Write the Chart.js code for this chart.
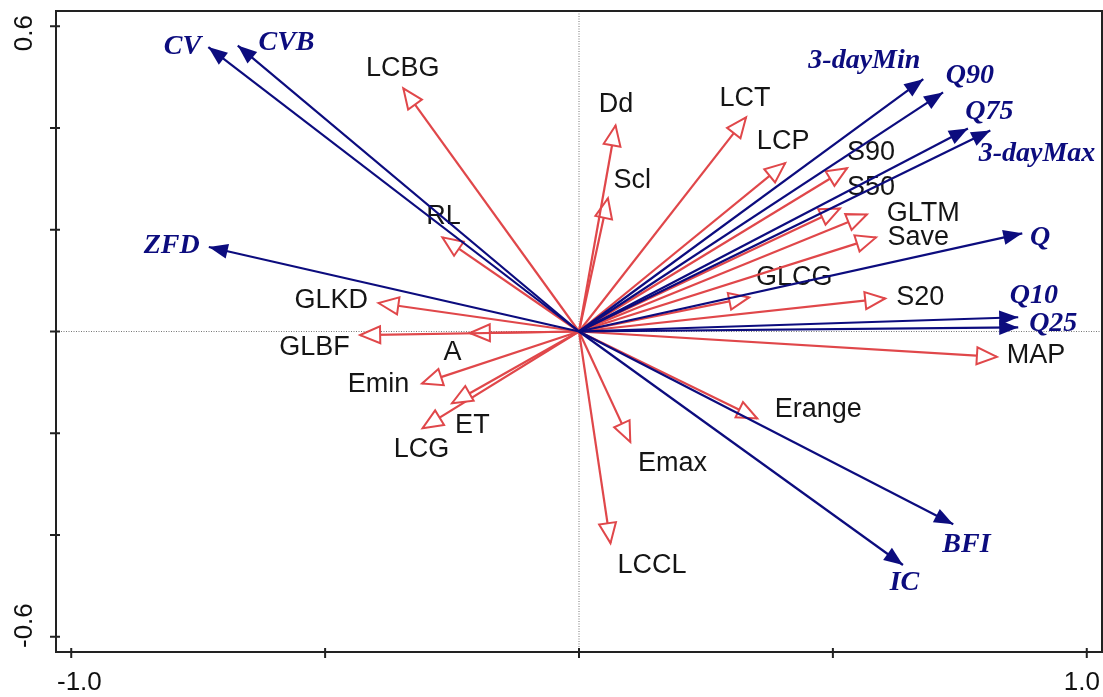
<!DOCTYPE html>
<html lang="en">
<head>
<meta charset="UTF-8">
<title>RDA biplot</title>
<script src="https://cdn.jsdelivr.net/npm/chart.js@4.4.0/dist/chart.umd.min.js"></script>
<style>
  body { margin: 0; background: #fff; }
  canvas { display: block; }
</style>
</head>
<body>
<canvas id="biplot" width="1103" height="697"></canvas>
<script>
// flow metrics (blue, filled heads)
const blueNames = ['CV', 'CVB', 'ZFD', '3-dayMin', 'Q90', 'Q75', '3-dayMax', 'Q', 'Q10', 'Q25', 'BFI', 'IC'];
const blueX = [-0.730, -0.672, -0.729, 0.678, 0.717, 0.766, 0.810, 0.873, 0.865, 0.865, 0.737, 0.638];
const blueY = [0.559, 0.562, 0.166, 0.496, 0.470, 0.399, 0.395, 0.193, 0.028, 0.008, -0.379, -0.459];
const blueLabelX = [-0.781, -0.576, -0.802, 0.562, 0.770, 0.808, 0.902, 0.908, 0.896, 0.934, 0.763, 0.641];
const blueLabelY = [0.560, 0.568, 0.168, 0.533, 0.503, 0.431, 0.350, 0.185, 0.071, 0.016, -0.420, -0.493];

// catchment variables (red, open heads)
const redNames = ['LCBG', 'RL', 'GLKD', 'GLBF', 'A', 'Emin', 'ET', 'LCG', 'Dd', 'Scl', 'LCT', 'LCP',
                  'S90', 'S50', 'GLTM', 'Save', 'GLCG', 'S20', 'MAP', 'Erange', 'Emax', 'LCCL'];
const redX = [-0.346, -0.269, -0.395, -0.431, -0.215, -0.309, -0.250, -0.308, 0.072, 0.057, 0.329, 0.406,
              0.528, 0.514, 0.567, 0.585, 0.335, 0.603, 0.823, 0.351, 0.101, 0.062];
const redY = [0.478, 0.185, 0.056, -0.007, -0.003, -0.102, -0.141, -0.190, 0.405, 0.262, 0.421, 0.331,
              0.321, 0.242, 0.230, 0.185, 0.067, 0.065, -0.050, -0.171, -0.217, -0.416];
const redLabelX = [-0.347, -0.267, -0.488, -0.521, -0.249, -0.395, -0.210, -0.310, 0.073, 0.105, 0.327, 0.402,
                   0.575, 0.575, 0.678, 0.668, 0.424, 0.672, 0.900, 0.471, 0.184, 0.144];
const redLabelY = [0.517, 0.225, 0.061, -0.031, -0.041, -0.104, -0.184, -0.233, 0.446, 0.297, 0.458, 0.374,
                   0.352, 0.283, 0.232, 0.185, 0.107, 0.067, -0.048, -0.153, -0.259, -0.461];

const xTicks = [-1, -0.5, 0, 0.5, 1];
const xTickLabels = ['-1.0', '', '', '', '1.0'];
const yTicks = [-0.6, -0.4, -0.2, 0, 0.2, 0.4, 0.6];
const yTickLabels = ['-0.6', '', '', '', '', '', '0.6'];

const BLUE = '#0c0c7e';
const RED = '#e0474a';

function arrowSet(x, y, color, head) {
    return {
        data: [{ x: 0, y: 0 }, { x: x, y: y }],
        borderColor: color,
        borderWidth: 2.2,
        pointRadius: 0,
        showLine: true,
        head: head
    };
}

// blue first so they sit on top of the red ones
const datasets = [];
blueX.forEach((v, i) => datasets.push(arrowSet(v, blueY[i], BLUE, 'filled')));
redX.forEach((v, i) => datasets.push(arrowSet(v, redY[i], RED, 'open')));

const biplotPlugin = {
    id: 'biplot',
    beforeDatasetsDraw(chart) {
        const { ctx, chartArea: a, scales: { x, y } } = chart;
        ctx.save();
        // dotted zero lines
        ctx.strokeStyle = '#777';
        ctx.lineWidth = 1;
        ctx.setLineDash([1, 1.5]);
        ctx.beginPath();
        ctx.moveTo(x.getPixelForValue(0), a.top);
        ctx.lineTo(x.getPixelForValue(0), a.bottom);
        ctx.moveTo(a.left, y.getPixelForValue(0));
        ctx.lineTo(a.right, y.getPixelForValue(0));
        ctx.stroke();
        ctx.setLineDash([]);

        ctx.textAlign = 'center';
        ctx.textBaseline = 'middle';
        ctx.fillStyle = '#151515';
        ctx.font = '27px "Liberation Sans", Arial, sans-serif';
        redNames.forEach((n, i) => {
            ctx.fillText(n, x.getPixelForValue(redLabelX[i]), y.getPixelForValue(redLabelY[i]));
        });
        ctx.fillStyle = BLUE;
        ctx.font = 'italic bold 28px "Liberation Serif", "Times New Roman", serif';
        blueNames.forEach((n, i) => {
            ctx.fillText(n, x.getPixelForValue(blueLabelX[i]), y.getPixelForValue(blueLabelY[i]));
        });
        ctx.restore();
    },
    afterDatasetDraw(chart, args) {
        const ds = chart.data.datasets[args.index];
        const pts = args.meta.data;
        const x0 = pts[0].x, y0 = pts[0].y, x1 = pts[1].x, y1 = pts[1].y;
        const ang = Math.atan2(y1 - y0, x1 - x0);
        const ctx = chart.ctx;
        const len = ds.head === 'filled' ? 19 : 20;
        const half = ds.head === 'filled' ? 7.5 : 8.5;
        ctx.save();
        ctx.translate(x1, y1);
        ctx.rotate(ang);
        ctx.beginPath();
        ctx.moveTo(0, 0);
        ctx.lineTo(-len, -half);
        ctx.lineTo(-len, half);
        ctx.closePath();
        if (ds.head === 'filled') {
            ctx.fillStyle = BLUE;
            ctx.fill();
        } else {
            ctx.fillStyle = '#fff';
            ctx.fill();
            ctx.strokeStyle = RED;
            ctx.lineWidth = 2;
            ctx.lineJoin = 'miter';
            ctx.stroke();
        }
        ctx.restore();
    },
    afterDraw(chart) {
        const { ctx, chartArea: a, scales: { x, y } } = chart;
        ctx.save();
        ctx.strokeStyle = '#222';
        ctx.lineWidth = 2;
        ctx.strokeRect(a.left, a.top, a.right - a.left, a.bottom - a.top);

        // tick marks crossing the axes
        ctx.beginPath();
        xTicks.forEach(v => {
            const px = x.getPixelForValue(v);
            ctx.moveTo(px, a.bottom - 4);
            ctx.lineTo(px, a.bottom + 6);
        });
        yTicks.forEach(v => {
            const py = y.getPixelForValue(v);
            ctx.moveTo(a.left - 6, py);
            ctx.lineTo(a.left + 4, py);
        });
        ctx.stroke();

        ctx.fillStyle = '#111';
        ctx.font = '26px "Liberation Sans", Arial, sans-serif';
        ctx.textBaseline = 'middle';
        ctx.textAlign = 'left';
        ctx.fillText(xTickLabels[0], a.left + 1, a.bottom + 31);
        ctx.textAlign = 'right';
        ctx.fillText(xTickLabels[xTickLabels.length - 1], a.right - 2, a.bottom + 31);

        ctx.translate(a.left - 31, 0);
        ctx.rotate(-Math.PI / 2);
        ctx.textAlign = 'right';
        ctx.fillText(yTickLabels[yTickLabels.length - 1], -(a.top + 4), 0);
        ctx.textAlign = 'left';
        ctx.fillText(yTickLabels[0], -(a.bottom - 4), 0);
        ctx.restore();
    }
};

new Chart(document.getElementById('biplot'), {
    type: 'scatter',
    data: { datasets: datasets },
    plugins: [biplotPlugin],
    options: {
        responsive: false,
        animation: false,
        layout: { padding: { top: 11, right: 1, left: 0, bottom: 0 } },
        plugins: { legend: { display: false }, tooltip: { enabled: false } },
        scales: {
            x: {
                type: 'linear',
                min: -1.03,
                max: 1.03,
                afterBuildTicks: s => { s.ticks = xTicks.map(v => ({ value: v })); },
                afterFit: s => { s.height = 45; },
                ticks: { display: false },
                grid: { display: false },
                border: { display: false }
            },
            y: {
                type: 'linear',
                min: -0.63,
                max: 0.63,
                afterBuildTicks: s => { s.ticks = yTicks.map(v => ({ value: v })); },
                afterFit: s => { s.width = 56; },
                ticks: { display: false },
                grid: { display: false },
                border: { display: false }
            }
        }
    }
});
</script>
</body>
</html>
